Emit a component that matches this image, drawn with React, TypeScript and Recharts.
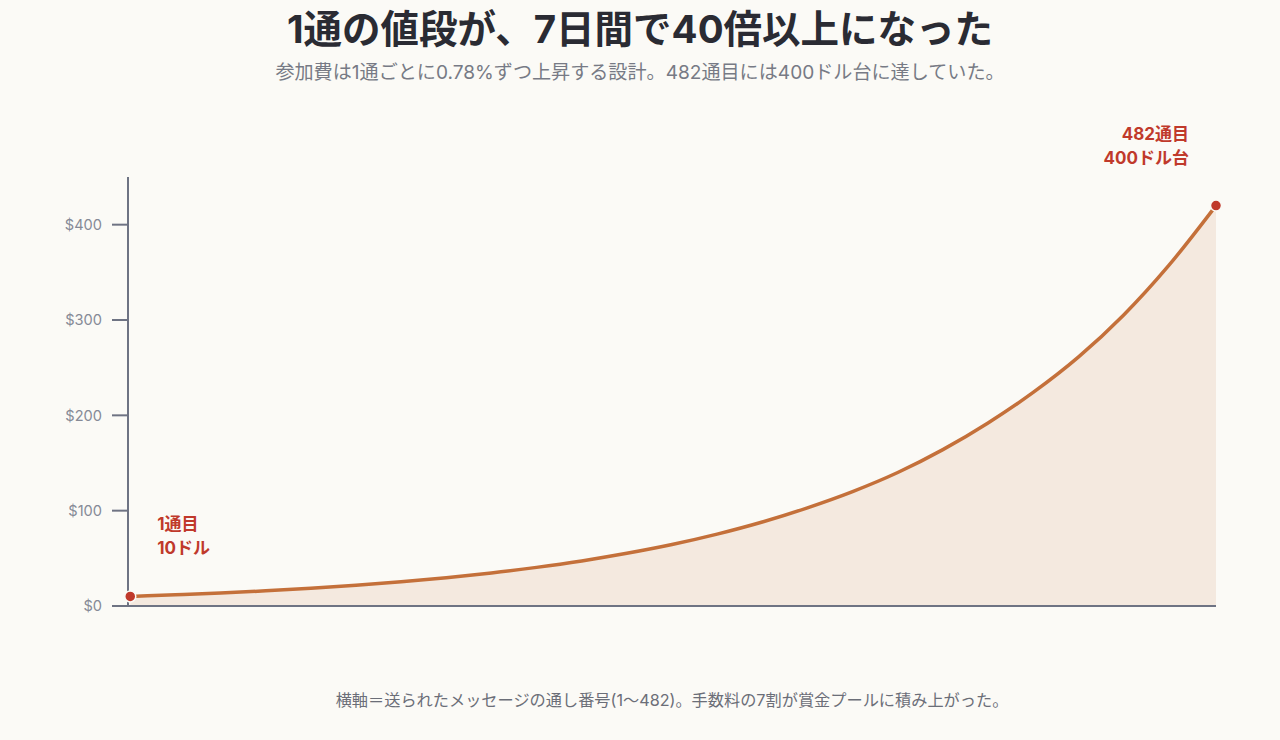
import React from "react";
import { ComposedChart, Area, Line, XAxis, YAxis, ReferenceDot, ReferenceLine } from "recharts";

const messageNo = [1, 21, 41, 61, 81, 101, 121, 141, 161, 181, 201, 221, 241, 261, 281, 301, 321, 341, 361, 381, 401, 421, 441, 461, 482];
const feeUsd = [10, 11.7, 13.6, 15.9, 18.6, 21.7, 25.4, 29.7, 34.7, 40.5, 47.3, 55.3, 64.5, 75.4, 88.1, 103, 120, 140, 164, 192, 224, 261, 305, 357, 420];
const yTicks = [0, 100, 200, 300, 400];
const yTickLabels = ["$0", "$100", "$200", "$300", "$400"];

const title = "1通の値段が、7日間で40倍以上になった";
const subtitle = "参加費は1通ごとに0.78%ずつ上昇する設計。482通目には400ドル台に達していた。";
const footer = "横軸＝送られたメッセージの通し番号(1〜482)。手数料の7割が賞金プールに積み上がった。";
const startLabel = ["1通目", "10ドル"];
const endLabel = ["482通目", "400ドル台"];

const data = messageNo.map((n, i) => ({ n, fee: feeUsd[i] }));

const FONT = 'Inter, "Noto Sans CJK JP", sans-serif';
const BG = "#fbfaf6";
const RED = "#c0392b";
const AXIS = "#6e7383";

const makeLabel = (lines: string[], anchor: "start" | "end") => (props: any) => {
  const vb = props.viewBox || {};
  const cx = vb.x + (vb.width || 0) / 2;
  const cy = vb.y + (vb.height || 0) / 2;
  const dx = anchor === "start" ? 27 : -27;
  return (
    <g>
      {lines.map((t, i) => (
        <text
          key={i}
          x={cx + dx}
          y={cy - 66 + i * 24}
          textAnchor={anchor}
          fill={RED}
          fontSize={17}
          fontWeight={700}
          fontFamily={FONT}
        >
          {t}
        </text>
      ))}
    </g>
  );
};

export default function App() {
  return (
    <div style={{ position: "absolute", left: 0, top: 0, width: 1280, height: 740, background: BG, fontFamily: FONT }}>
      <div style={{ position: "absolute", left: 0, top: 4, width: 1280, textAlign: "center", fontSize: 38.5, fontWeight: 700, color: "#2a2b33", lineHeight: "50px" }}>
        {title}
      </div>
      <div style={{ position: "absolute", left: 0, top: 59, width: 1280, textAlign: "center", fontSize: 19.1, color: "#777a85", lineHeight: "26px" }}>
        {subtitle}
      </div>
      <div style={{ position: "absolute", left: 0, top: 0 }}>
        <ComposedChart width={1280} height={740} data={data} margin={{ top: 177, right: 64, bottom: 134, left: 0 }}>
          <XAxis
            dataKey="n"
            type="number"
            domain={[0, 482]}
            tick={false}
            tickLine={false}
            height={0}
            axisLine={{ stroke: AXIS, strokeWidth: 2 }}
          />
          <YAxis
            type="number"
            domain={[0, 450]}
            ticks={yTicks}
            width={128}
            tickSize={16}
            tickMargin={10}
            tickFormatter={(v: number) => yTickLabels[yTicks.indexOf(v)]}
            tick={{ fill: "#868a96", fontSize: 14.6, fontFamily: FONT }}
            tickLine={{ stroke: AXIS, strokeWidth: 2 }}
            axisLine={{ stroke: AXIS, strokeWidth: 2 }}
          />
          <Area dataKey="fee" type="monotone" fill="#f4e9df" fillOpacity={1} stroke="none" isAnimationActive={false} />
          <ReferenceLine y={0} stroke={AXIS} strokeWidth={2} />
          <Line dataKey="fee" type="monotone" stroke="#c4703a" strokeWidth={3.5} dot={false} activeDot={false} isAnimationActive={false} />
          <ReferenceDot x={messageNo[0]} y={feeUsd[0]} r={5.5} fill={RED} stroke={BG} strokeWidth={1.5} label={makeLabel(startLabel, "start")} />
          <ReferenceDot
            x={messageNo[messageNo.length - 1]}
            y={feeUsd[feeUsd.length - 1]}
            r={5.5}
            fill={RED}
            stroke={BG}
            strokeWidth={1.5}
            label={makeLabel(endLabel, "end")}
          />
        </ComposedChart>
      </div>
      <div style={{ position: "absolute", left: 128, top: 689, width: 1088, textAlign: "center", fontSize: 16.2, color: "#6b6e78", lineHeight: "22px" }}>
        {footer}
      </div>
    </div>
  );
}
